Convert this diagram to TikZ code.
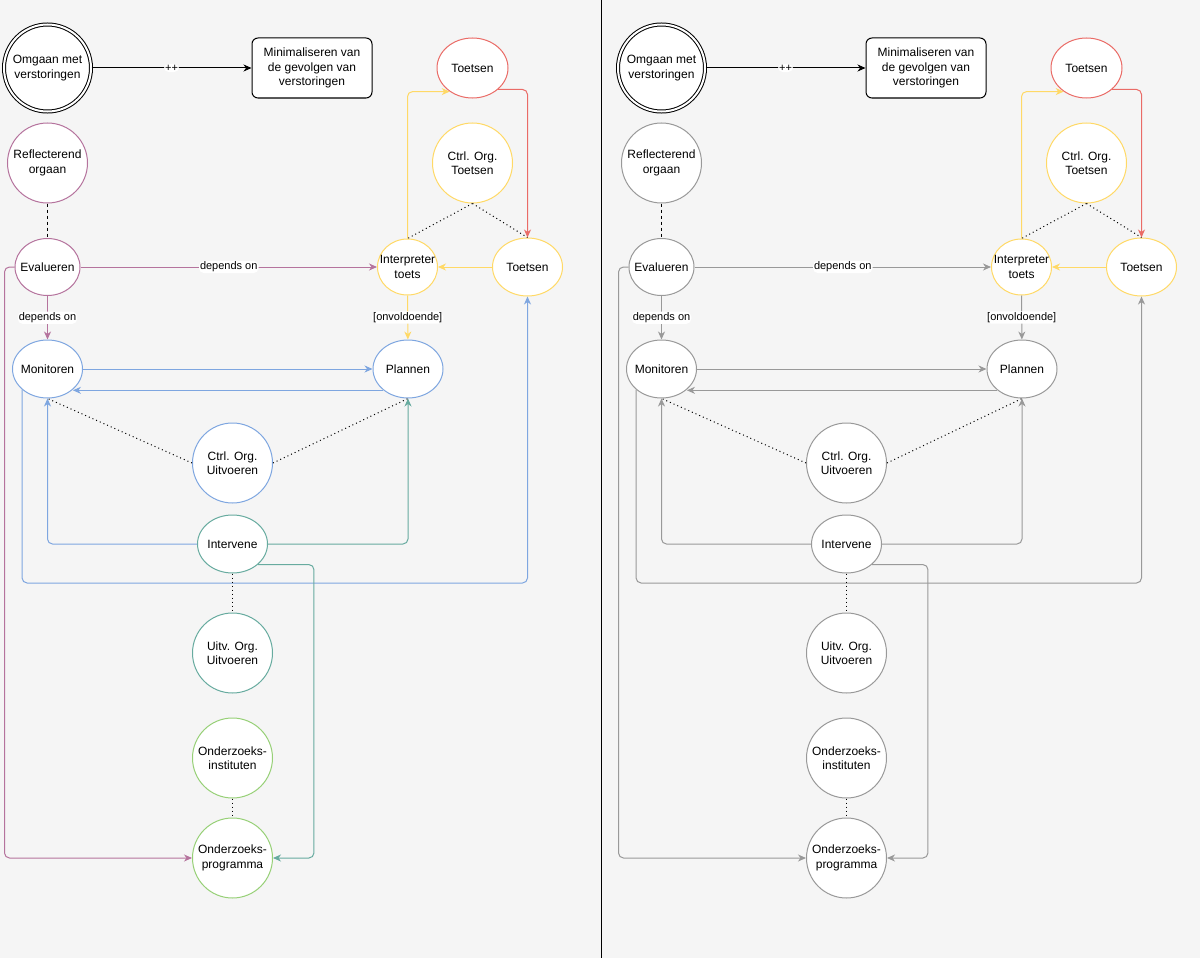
\documentclass[tikz,border=0pt]{standalone}
\usepackage{fontspec}
\setmainfont{Liberation Sans}
\usetikzlibrary{shapes.geometric,arrows.meta,calc}
\definecolor{bgc}{HTML}{F5F5F5}
\definecolor{pinkc}{HTML}{B5739D}
\definecolor{bluec}{HTML}{7EA6E0}
\definecolor{greenc}{HTML}{67AB9F}
\definecolor{lgreenc}{HTML}{97D077}
\definecolor{yellowc}{HTML}{FFD966}
\definecolor{redc}{HTML}{EA6B66}
\definecolor{greyc}{HTML}{999999}
\tikzset{
 shp/.style={draw=#1, fill=white, line width=1pt, inner sep=0pt},
 el/.style={shp=#1, ellipse},
 ci/.style={shp=#1, circle, minimum size=80pt},
 txt/.style={label={[font=\fontsize{12}{14.4}\selectfont, align=center, inner sep=0pt, text=black]center:#1}},
 conn/.style={draw=#1, line width=1pt, -{Stealth[length=8pt,width=7pt,inset=2.5pt]}, rounded corners=5pt},
 elab/.style={fill=white, font=\fontsize{11}{13}\selectfont, inner sep=1pt, text=black},
 dotl/.style={draw=black, line width=1pt, dash pattern=on 1pt off 3pt},
 dashl/.style={draw=black, line width=1pt, dash pattern=on 3pt off 3pt},
}
\newcommand\drawpanel[1]{%
\node[circle, draw=black, line width=1pt, double=white, double distance=2pt, minimum size=87pt, inner sep=0pt, fill=white, txt={Omgaan met\\verstoringen}] (#1om) at (47.5,68) {};
\node[shp=black, rounded corners=6pt, minimum width=120pt, minimum height=60pt, align=center, font=\fontsize{12}{14.4}\selectfont] (#1mi) at (312,68) {Minimaliseren van\\de gevolgen van\\verstoringen};
\node[ci=cP, txt={Reflecterend\\orgaan}] (#1re) at (47.5,163) {};
\node[el=cP, minimum width=65pt, minimum height=57pt, txt={Evalueren}] (#1ev) at (47.5,267) {};
\node[el=cB, minimum width=70pt, minimum height=58pt, txt={Monitoren}] (#1mo) at (47.5,369) {};
\node[el=cB, minimum width=70pt, minimum height=58pt, txt={Plannen}] (#1pl) at (408,369) {};
\node[el=yellowc, minimum width=60pt, minimum height=56pt, txt={Interpreter\\toets}] (#1it) at (407.5,267) {};
\node[el=yellowc, minimum width=70pt, minimum height=58pt, txt={Toetsen}] (#1tb) at (527.5,267) {};
\node[el=redc, minimum width=71pt, minimum height=60pt, txt={Toetsen}] (#1tt) at (472.5,68) {};
\node[ci=yellowc, txt={Ctrl. Org.\\Toetsen}] (#1ct) at (472.5,163) {};
\node[ci=cB, txt={Ctrl. Org.\\Uitvoeren}] (#1cu) at (232.5,463) {};
\node[el=cG, minimum width=70pt, minimum height=58pt, txt={Intervene}] (#1in) at (232.5,544) {};
\node[ci=cG, txt={Uitv. Org.\\Uitvoeren}] (#1uu) at (232.5,653) {};
\node[ci=cL, txt={Onderzoeks-\\instituten}] (#1oi) at (232.5,758) {};
\node[ci=cL, txt={Onderzoeks-\\programma}] (#1op) at (232.5,858) {};
\coordinate (#1y) at (0,583);
\draw[conn=black] (#1om) -- node[elab]{++} (#1mi);
\draw[dashl] (#1re) -- (#1ev);
\draw[conn=cP] (#1ev) -- node[elab]{depends on} (#1it);
\draw[conn=cP] (#1ev) -- node[elab]{depends on} (#1mo);
\draw[conn=cP] (#1ev.west) -- ++(-10,0) |- (#1op.west);
\draw[conn=cB] (#1mo) -- (#1pl);
\draw[conn=cB] (#1pl.221) -- (#1pl.221 -| #1mo.-39);
\draw[conn=cB] (#1mo.219) -- (#1mo.219 |- #1y) -| (#1tb.south);
\draw[conn=cB] (#1in.west) -| (#1mo.south);
\draw[conn=cG] (#1in.east) -| (#1pl.south);
\draw[conn=cG] (#1in.-39) -- ++(56,0) |- (#1op.east);
\draw[dotl] (#1cu.west) -- (#1mo.south);
\draw[dotl] (#1cu.east) -- (#1pl.south);
\draw[dotl] (#1ct.south) -- (#1it.north);
\draw[dotl] (#1ct.south) -- (#1tb.north);
\draw[dotl] (#1in) -- (#1uu);
\draw[dotl] (#1oi) -- (#1op);
\draw[conn=redc] (#1tt.-40) -| (#1tb.north);
\draw[conn=yellowc] (#1it.north) |- (#1tt.226);
\draw[conn=yellowc] (#1tb) -- (#1it);
\draw[conn=cY] (#1it) -- node[elab]{[onvoldoende]} (#1pl);
}
\begin{document}
\begin{tikzpicture}[x=1pt,y=-1pt]
\useasboundingbox (0,0) rectangle (1200,958);
\fill[bgc] (0,0) rectangle (1200,958);
\draw[black, line width=1pt] (601,0) -- (601,958);
\begin{scope}
\colorlet{cP}{pinkc}\colorlet{cB}{bluec}\colorlet{cG}{greenc}\colorlet{cL}{lgreenc}\colorlet{cY}{yellowc}
\drawpanel{L}
\end{scope}
\begin{scope}[xshift=614pt]
\colorlet{cP}{greyc}\colorlet{cB}{greyc}\colorlet{cG}{greyc}\colorlet{cL}{greyc}\colorlet{cY}{greyc}
\drawpanel{R}
\end{scope}
\end{tikzpicture}
\end{document}
